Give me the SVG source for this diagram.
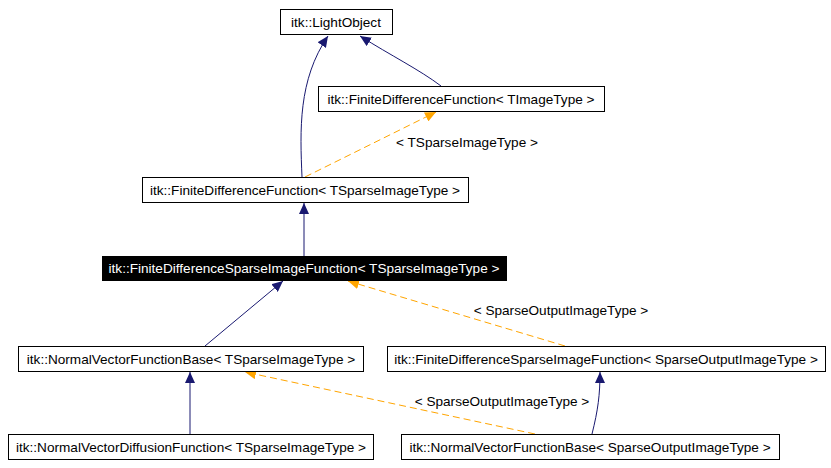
<svg xmlns="http://www.w3.org/2000/svg" width="831" height="468" viewBox="0 0 831 468">
<style>
.n rect{fill:#fff;stroke:#000;stroke-width:1}
text{font-family:"Liberation Sans",Arial,sans-serif;font-size:13.6px;text-anchor:middle;fill:#000}
.e{fill:none;stroke:#191970;stroke-width:1}
.t{fill:none;stroke:#ffa500;stroke-width:1;stroke-dasharray:7,4}
</style>
<defs>
<marker id="an" markerWidth="12" markerHeight="10" refX="11" refY="5" orient="auto" markerUnits="userSpaceOnUse"><path d="M0,0 L11,5 L0,10 z" fill="#191970"/></marker>
<marker id="ao" markerWidth="12" markerHeight="10" refX="11" refY="5" orient="auto" markerUnits="userSpaceOnUse"><path d="M0,0 L11,5 L0,10 z" fill="#ffa500"/></marker>
</defs>
<rect width="831" height="468" fill="#fff"/>
<g id="connectors">
<path class="e" d="M302,177 C300,130 298,80 328,36" marker-end="url(#an)"/>
<path class="e" d="M441,86 C420,70 390,55 360,36" marker-end="url(#an)"/>
<path class="t" d="M305,177 L436,112" marker-end="url(#ao)"/>
<text x="467" y="147">&lt; TSparseImageType &gt;</text>
<path class="e" d="M304,256 L304,203" marker-end="url(#an)"/>
<path class="e" d="M205,346 L283,281" marker-end="url(#an)"/>
<path class="t" d="M565,346 L348,281" marker-end="url(#ao)"/>
<text x="561" y="315">&lt; SparseOutputImageType &gt;</text>
<path class="e" d="M190,434 L190,372" marker-end="url(#an)"/>
<path class="e" d="M592,434 C598,410 600,395 600,372" marker-end="url(#an)"/>
<path class="t" d="M535,434 L245,372" marker-end="url(#ao)"/>
<text x="502" y="406">&lt; SparseOutputImageType &gt;</text>
</g>
<g id="n1" class="n"><rect x="280.5" y="9.5" width="112" height="25"/><text x="336" y="27">itk::LightObject</text></g>
<g id="n2" class="n"><rect x="318.5" y="86.5" width="286" height="25"/><text x="461" y="104">itk::FiniteDifferenceFunction&lt; TImageType &gt;</text></g>
<g id="n3" class="n"><rect x="142.5" y="177.5" width="326" height="25"/><text x="305" y="195">itk::FiniteDifferenceFunction&lt; TSparseImageType &gt;</text></g>
<g id="n4"><rect x="102" y="256" width="405" height="25" fill="#000"/><text x="304" y="273" style="fill:#fff">itk::FiniteDifferenceSparseImageFunction&lt; TSparseImageType &gt;</text></g>
<g id="n5" class="n"><rect x="18.5" y="346.5" width="345" height="25"/><text x="191" y="364">itk::NormalVectorFunctionBase&lt; TSparseImageType &gt;</text></g>
<g id="n6" class="n"><rect x="387.5" y="346.5" width="438" height="25"/><text x="606" y="364">itk::FiniteDifferenceSparseImageFunction&lt; SparseOutputImageType &gt;</text></g>
<g id="n7" class="n"><rect x="8.5" y="434.5" width="365" height="25"/><text x="191" y="452">itk::NormalVectorDiffusionFunction&lt; TSparseImageType &gt;</text></g>
<g id="n8" class="n"><rect x="401.5" y="434.5" width="378" height="25"/><text x="590" y="452">itk::NormalVectorFunctionBase&lt; SparseOutputImageType &gt;</text></g>
</svg>
